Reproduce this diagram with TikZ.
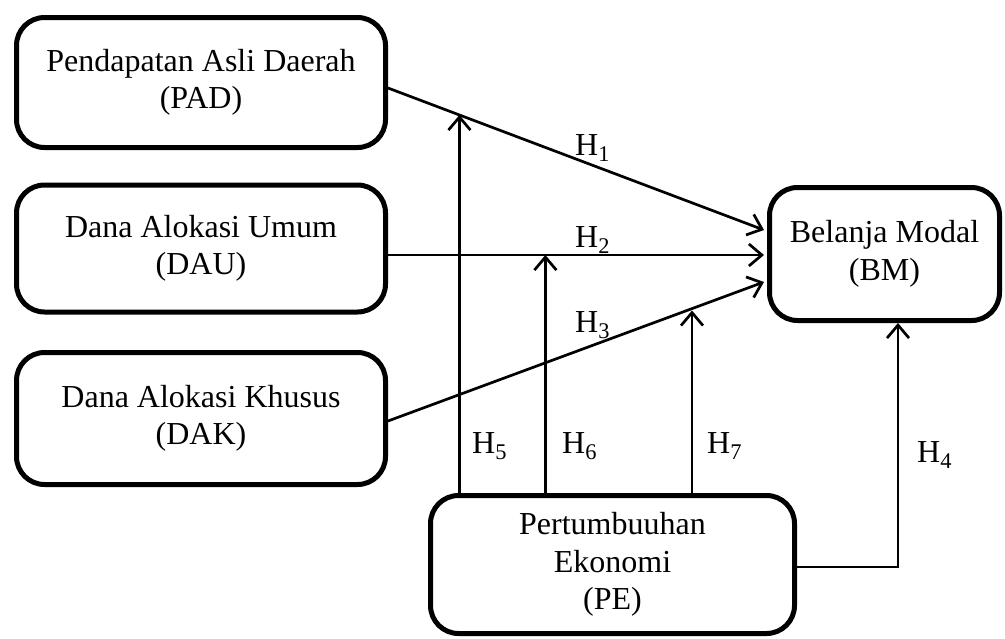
\documentclass[tikz,border=0pt]{standalone}
\usepackage{fontspec}
\setmainfont{Liberation Serif}
\usetikzlibrary{arrows.meta,calc}
\begin{document}
\begin{tikzpicture}[x=1pt,y=-1pt,
  box/.style={draw, line width=5pt, rounded corners=28pt, align=center, inner sep=0pt,
    font=\fontsize{32}{37.5}\selectfont},
  conn/.style={line width=2.7pt},
  arr/.style={conn, -{Straight Barb[length=13pt,width=22pt,line width=2.7pt]}},
  lab/.style={inner sep=0pt, anchor=base west, font=\fontsize{32}{37.5}\selectfont}]
\useasboundingbox (0,0) rectangle (1005,638);

\node[box, minimum width=369pt, minimum height=130pt] (PAD) at (201,82.5) {Pendapatan Asli Daerah\\(PAD)};
\node[box, minimum width=369pt, minimum height=127pt] (DAU) at (201,248.5) {Dana Alokasi Umum\\(DAU)};
\node[box, minimum width=369pt, minimum height=132pt] (DAK) at (201,418.5) {Dana Alokasi Khusus\\(DAK)};
\node[box, minimum width=230pt, minimum height=133pt] (BM) at (884.5,254) {Belanja Modal\\(BM)};
\node[box, minimum width=364pt, minimum height=138pt] (PE) at (612.5,564.5) {Pertumbuuhan\\Ekonomi\\(PE)};

% main effects
\coordinate (p1s) at ($(PAD.east)+(0,5.5)$);
\coordinate (p1e) at ($(BM.west)+(-3,-24)$);
\coordinate (p2s) at ($(DAU.east)+(0,6.5)$);
\coordinate (p2e) at ($(BM.west)+(-3,1)$);
\coordinate (p3s) at ($(DAK.east)+(0,2.5)$);
\coordinate (p3e) at ($(BM.west)+(-3,28)$);
\draw[arr] (p1s) -- (p1e);
\draw[arr] (p2s) -- (p2e);
\draw[arr] (p3s) -- (p3e);

% moderation
\coordinate (h5t) at ($(p1s)!0.19!(p1e)$);
\coordinate (h6t) at ($(p2s)!0.4186!(p2e)$);
\coordinate (h7t) at ($(PE.north)+(79.5,-182.5)$);
\draw[arr] (h5t |- PE.north) -- (h5t);
\draw[arr] (h6t |- PE.north) -- (h6t);
\draw[arr] (h7t |- PE.north) -- (h7t);

% H4
\coordinate (h4) at ($(BM.south)+(13.5,0)$);
\draw[arr] ($(PE.east)+(0,2.5)$) -| (h4);

% labels
\node[lab] (l1) at (575,155) {H\textsubscript{1}};
\node[lab] (l2) at (575,247) {H\textsubscript{2}};
\node[lab] (l3) at (575,332) {H\textsubscript{3}};
\node[lab] (l5) at (472,453) {H\textsubscript{5}};
\node[lab] (l6) at (562,453) {H\textsubscript{6}};
\node[lab] (l7) at (707,453) {H\textsubscript{7}};
\node[lab] (l4) at (917,462) {H\textsubscript{4}};
\end{tikzpicture}
\end{document}
